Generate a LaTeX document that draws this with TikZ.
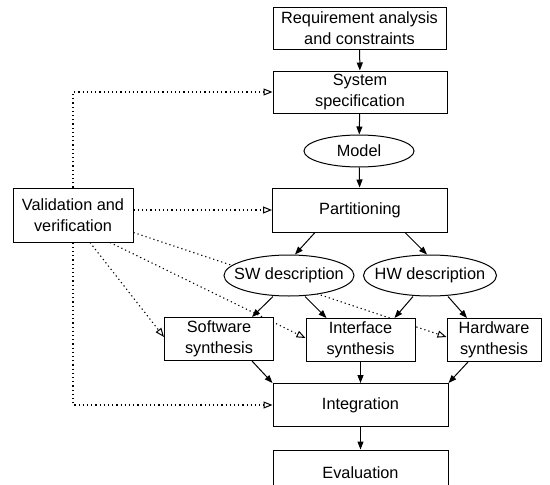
\documentclass[tikz,border=0pt]{standalone}
\usepackage{fontspec}
\setmainfont{Liberation Sans}
\usetikzlibrary{arrows.meta,shapes.geometric,backgrounds}
\begin{document}
\begin{tikzpicture}[x=1pt,y=-1pt,
  every node/.style={font=\fontsize{16.3}{21}\selectfont, align=center, inner sep=0pt},
  box/.style={draw, fill=white, line width=1pt, rectangle},
  oval/.style={draw, fill=white, line width=1pt, ellipse},
  arr/.style={line width=1pt, -{Triangle[length=8pt,width=6pt]}},
  dotarr/.style={line width=1.1pt, dash pattern=on 1.2pt off 3pt, -{Triangle[open,length=9pt,width=7pt,line width=1pt]}}]
\useasboundingbox (0,0) rectangle (550,485);
\clip (0,0) rectangle (550,485);
\node[box, minimum width=173pt, minimum height=42pt] (req) at (359.5,28) {Requirement analysis\\and constraints};
\node[box, minimum width=174pt, minimum height=42pt] (sys) at (360,92) {System\\specification};
\node[oval, minimum width=110pt, minimum height=32pt] (model) at (359,151) {};
\node (modelt) at (model) {Model};
\node[box, minimum width=175pt, minimum height=44pt] (part) at (360,210) {Partitioning};
\node[box, minimum width=120pt, minimum height=54pt] (val) at (73,215) {Validation and\\verification};
\node[oval, minimum width=130pt, minimum height=41pt] (sw) at (289,275.5) {};
\node (swt) at (sw) {SW description};
\node[oval, minimum width=133pt, minimum height=41pt] (hw) at (430,275.5) {};
\node (hwt) at (hw) {HW description};
\node[box, minimum width=109pt, minimum height=43pt] (softsyn) at (219,339) {Software\\synthesis};
\node[box, minimum width=109pt, minimum height=43pt] (intsyn) at (360.5,340) {Interface\\synthesis};
\node[box, minimum width=94pt, minimum height=43pt] (hwsyn) at (494,340) {Hardware\\synthesis};
\node[box, minimum width=175pt, minimum height=43pt] (integ) at (360.5,405) {Integration};
\node[box, minimum width=175pt, minimum height=46pt] (eval) at (360.5,473) {Evaluation};
\coordinate (vtop) at (val.north |- sys.west);
\coordinate (vbot) at (val.south |- integ.west);
\begin{scope}[on background layer]
  \draw[dotarr] (val.north) -- (vtop) -- (sys.west);
  \draw[dotarr] (val.south) -- (vbot) -- (integ.west);
  \draw[dotarr] (val.east |- part.west) -- (part.west);
  \draw[dotarr] ([xshift=17pt]val.south) -- ([yshift=2pt]softsyn.west);
  \draw[dotarr] ([xshift=37pt]val.south) -- ([yshift=2pt]intsyn.west);
  \draw[dotarr] ([yshift=10pt]val.south east) -- ([yshift=3pt]hwsyn.west);
\end{scope}
\draw[arr] (req) -- (sys);
\draw[arr] (sys) -- (model);
\draw[arr] (model) -- (part);
\draw[arr] ([xshift=-45pt]part.south) -- ([xshift=6pt]sw.north);
\draw[arr] ([xshift=45pt]part.south) -- ([xshift=-3pt]hw.north);
\draw[arr] ([xshift=-16pt]sw.south) -- ([xshift=33pt]softsyn.north);
\draw[arr] ([xshift=16pt]sw.south) -- ([xshift=-34pt]intsyn.north);
\draw[arr] ([xshift=-17pt]hw.south) -- ([xshift=34pt]intsyn.north);
\draw[arr] ([xshift=18pt]hw.south) -- ([xshift=-27pt]hwsyn.north);
\draw[arr] ([xshift=33pt]softsyn.south) -- (integ.north west);
\draw[arr] (intsyn.south) -- (intsyn.south |- integ.north);
\draw[arr] ([xshift=-26pt]hwsyn.south) -- (integ.north east);
\draw[arr] (integ) -- (eval);
\end{tikzpicture}
\end{document}
